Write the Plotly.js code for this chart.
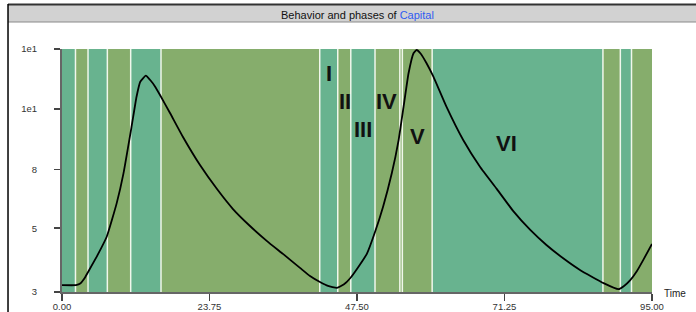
<!DOCTYPE html>
<html>
<head>
<meta charset="utf-8">
<script src="https://cdn.plot.ly/plotly-3.0.1.min.js"></script>
<style>html,body{margin:0;padding:0;background:#fff;}#chart{width:696px;height:312px;}</style>
</head>
<body>
<div id="chart"></div>
<script>
// Curve: Capital over Time
const time = [0, 2.25, 3.0, 3.6, 4.2, 5.72, 7.2, 8.8, 9.9, 11.2, 12.0, 12.6, 13.5, 14.2, 15.0, 15.78, 17.39, 19.48, 22.22, 24.96, 27.53, 30.27, 33.01, 35.58, 38.32, 39.93, 41.54, 42.83, 44.28, 45.41, 46.4, 47.66, 49.1, 50.4, 51.7, 53.1, 54.2, 55.0, 55.8, 56.6, 57.1, 57.8, 58.7, 59.8, 61.9, 64.6, 67.3, 70.0, 72.7, 75.4, 78.0, 80.7, 83.4, 87.2, 89.6, 90.5, 91.5, 92.58, 93.6, 95];
const capital = [3.17, 3.17, 3.22, 3.34, 3.52, 4.03, 4.67, 6.10, 7.76, 11.27, 14.33, 16.16, 16.96, 16.38, 15.53, 14.53, 12.58, 10.38, 8.29, 6.84, 5.83, 5.09, 4.51, 4.07, 3.64, 3.41, 3.25, 3.15, 3.10, 3.19, 3.35, 3.65, 4.08, 4.85, 5.94, 7.76, 10.13, 13.23, 17.29, 20.29, 20.83, 20.18, 18.73, 16.82, 13.23, 10.13, 8.18, 6.85, 5.72, 4.93, 4.37, 3.93, 3.58, 3.22, 3.07, 3.15, 3.30, 3.55, 3.88, 4.41];

// Phase bands (start/end in Time units) and their kind
const bandStart = [0, 2.17, 4.19, 7.3, 11.06, 15.94, 41.5, 44.4, 46.5, 50.4, 54.4, 54.8, 59.6, 87.1, 89.9, 91.7];
const bandEnd   = [2.17, 4.19, 7.3, 11.06, 15.94, 41.5, 44.4, 46.5, 50.4, 54.4, 54.8, 59.6, 87.1, 89.9, 91.7, 95];
const bandKind  = ['a','b','a','b','a','b','a','b','a','b','b','b','a','b','a','b'];

// Phase labels
const phaseLabels = ['I', 'II', 'III', 'IV', 'V', 'VI'];
const phaseX = [43.0, 45.5, 48.5, 52.3, 57.2, 71.6];
const phaseY = [0.90, 0.783, 0.667, 0.783, 0.639, 0.612];

// Axis ticks
const xTickVals = [0, 23.75, 47.5, 71.25, 95];
const xTickText = ['0.00', '23.75', '47.50', '71.25', '95.00'];
const yTickVals = [3, 5, 8, 13, 21];
const yTickText = ['3', '5', '8', '1e1', '1e1'];

const colA = '#68B38F';
const colB = '#86AD6C';

const shapes = [];
// frame decoration
shapes.push({type:'rect', xref:'paper', yref:'paper', x0:-0.0915, x1:1.1, y0:1.1111, y1:1.1811, fillcolor:'#D2D2D2', line:{width:0}, layer:'below'});
shapes.push({type:'line', xref:'paper', yref:'paper', x0:-0.0915, x1:1.1, y0:1.1111, y1:1.1111, line:{color:'#8a8a8a', width:1}, layer:'below'});
shapes.push({type:'line', xref:'paper', yref:'paper', x0:-0.0915, x1:1.1, y0:1.1831, y1:1.1831, line:{color:'#333', width:2}, layer:'below'});
shapes.push({type:'line', xref:'paper', yref:'paper', x0:-0.0915, x1:-0.0915, y0:1.1851, y1:-0.2, line:{color:'#000', width:1.5}, layer:'below'});

for (let i = 0; i < bandStart.length; i++) {
  shapes.push({type:'rect', xref:'x', yref:'paper', x0:bandStart[i], x1:bandEnd[i], y0:0, y1:1,
    fillcolor: bandKind[i] === 'a' ? colA : colB, line:{width:0}, layer:'below'});
}
for (let i = 1; i < bandStart.length; i++) {
  shapes.push({type:'line', xref:'x', yref:'paper', x0:bandStart[i], x1:bandStart[i], y0:0, y1:1,
    line:{color:'rgba(245,250,240,0.95)', width:1.5}, layer:'below'});
}

const annotations = phaseLabels.map((t, i) => ({
  text: t, x: phaseX[i], y: phaseY[i], xref: 'x', yref: 'paper', showarrow: false,
  xanchor: 'center', yanchor: 'middle',
  font: {family: 'Liberation Sans, Arial, sans-serif', size: 22, color: '#111', weight: 'bold'}
}));
annotations.push({
  text: 'Behavior and phases of <span style="color:#2F5BF0">Capital</span>',
  xref: 'paper', yref: 'paper', x: 0.5015, y: 1.14, showarrow: false, xanchor: 'center', yanchor: 'middle',
  font: {family: 'Liberation Sans, Arial, sans-serif', size: 11, color: '#111'}
});
annotations.push({
  text: 'Time', xref: 'paper', yref: 'paper', x: 1.017, y: -0.007, showarrow: false, xanchor: 'left', yanchor: 'middle',
  font: {family: 'Liberation Sans, Arial, sans-serif', size: 10, color: '#222'}
});

const trace = {
  x: time, y: capital, type: 'scatter', mode: 'lines',
  line: {color: '#000', width: 1.8, shape: 'spline', smoothing: 0.4},
  hoverinfo: 'skip'
};

const layout = {
  width: 696, height: 312,
  margin: {l: 62, r: 44, t: 49, b: 20},
  paper_bgcolor: '#fff', plot_bgcolor: '#fff',
  showlegend: false,
  xaxis: {
    range: [0, 95], tickvals: xTickVals, ticktext: xTickText,
    ticks: 'outside', ticklen: 7, tickcolor: '#444', tickwidth: 1.5,
    showline: true, linecolor: '#666', linewidth: 2, showgrid: false, zeroline: false,
    ticklabelstandoff: -2,
    tickfont: {family: 'Liberation Sans, Arial, sans-serif', size: 9.5, color: '#333'}
  },
  yaxis: {
    type: 'log', range: [Math.log10(3), Math.log10(21)],
    tickvals: yTickVals, ticktext: yTickText,
    ticks: 'outside', ticklen: 6, tickcolor: '#444', tickwidth: 1.5,
    showline: true, linecolor: '#666', linewidth: 2, showgrid: false, zeroline: false,
    ticklabelstandoff: 15,
    tickfont: {family: 'Liberation Sans, Arial, sans-serif', size: 9.5, color: '#333'}
  },
  shapes: shapes,
  annotations: annotations
};

Plotly.newPlot('chart', [trace], layout, {displayModeBar: false, staticPlot: true});
</script>
</body>
</html>
